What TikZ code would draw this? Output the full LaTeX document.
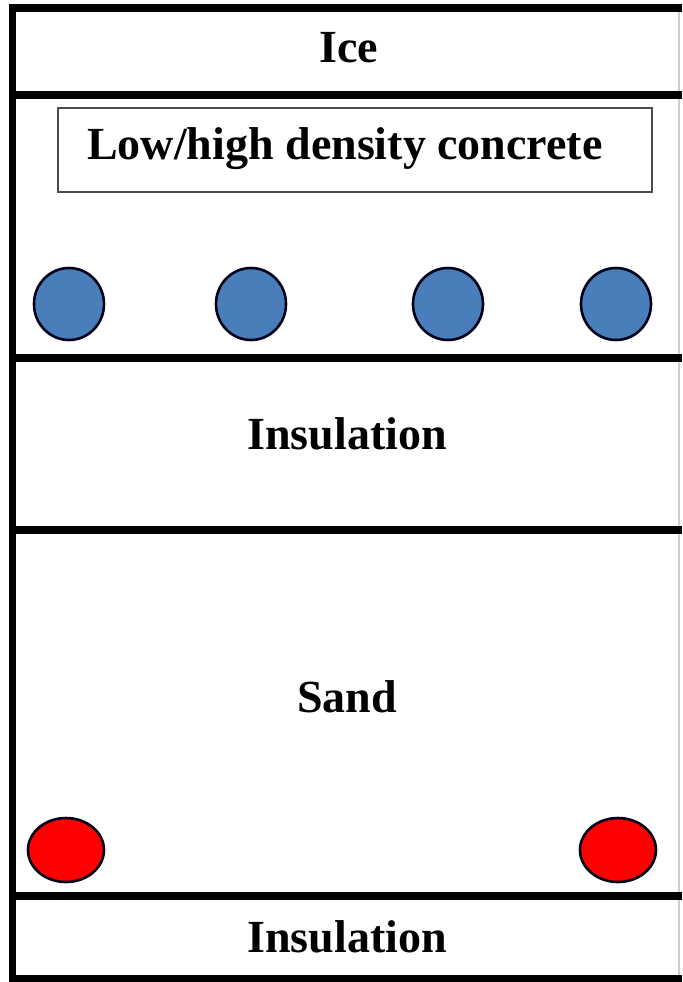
\documentclass[tikz,border=0pt]{standalone}
\usepackage{fontspec}
\setmainfont{Liberation Serif}
\usepackage{xcolor}
\definecolor{pipeblue}{RGB}{74,126,187}
\definecolor{pipered}{RGB}{255,0,0}
\tikzset{
    layer/.style={line width=3.6pt},
    lbl/.style={font=\fontsize{23}{27}\selectfont\bfseries, inner sep=0pt},
    pipe/.style={draw=black!90!blue, line width=1.3pt}
}

\begin{document}
\begin{tikzpicture}[x=0.5pt,y=-0.5pt]
    \useasboundingbox (0,0) rectangle (682,982);
    % outer frame and layer boundaries
    \draw[gray!40, line width=0.8pt] (679,8) -- (679,979);
    \draw[layer] (682,8) -- (12.5,8) -- (12.5,979) -- (682,979);
    \foreach \y in {95,358,530,896}{
        \draw[layer] (12.5,\y) -- (682,\y);
    }
    % labels
    \node[lbl] (ice) at (349,48) {Ice};
    \draw[black!70, line width=0.9pt] (58,108) rectangle (652,192);
    \node[lbl] (concrete) at (345,149) {Low/high density concrete};
    \node[lbl] (insul) at (347,434) {Insulation};
    \node[lbl] (sand) at (347,697) {Sand};
    \node[lbl] (insulb) at (347,937) {Insulation};
    % heating pipes
    \foreach \x in {69,251,448,616}{
        \filldraw[pipe, fill=pipeblue] (\x,304) ellipse (35 and 36);
    }
    \foreach \x in {66,618}{
        \filldraw[pipe, fill=pipered] (\x,850) ellipse (38 and 32);
    }
\end{tikzpicture}
\end{document}
